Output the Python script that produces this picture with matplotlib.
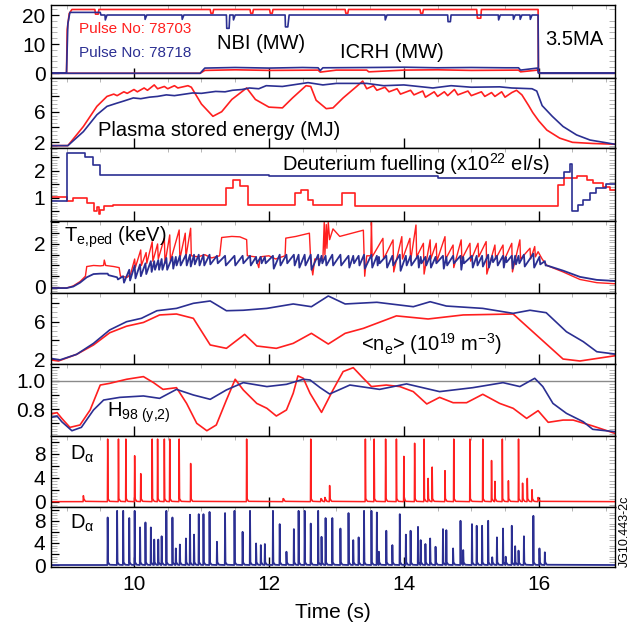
import matplotlib
matplotlib.use("Agg")
import matplotlib.pyplot as plt
import numpy as np
from matplotlib.ticker import MultipleLocator

plt.rcParams["font.family"] = ["Liberation Sans", "DejaVu Sans"]
plt.rcParams["mathtext.fontset"] = "custom"
plt.rcParams["mathtext.rm"] = "Liberation Sans"
plt.rcParams["mathtext.it"] = "Liberation Sans:italic"
plt.rcParams["mathtext.default"] = "regular"

RED = "#ff1f1f"
BLUE = "#2b2f92"

# ---- NBI / ICRH (MW) ----
nbi_red_t = [8.77, 9.0, 9.01, 9.04, 9.08, 9.42, 9.43, 9.47, 9.48, 11.13, 11.14, 11.17, 11.18,
             11.72, 11.73, 11.76, 11.77, 12.01, 12.02, 12.05, 12.06, 13.13, 13.14, 13.17, 13.18,
             14.24, 14.25, 14.28, 14.29, 15.08, 15.09, 15.14, 15.15, 15.99, 15.995, 17.13]
nbi_red_v = [0, 0, 15, 20.5, 21.9, 21.9, 20.3, 20.3, 21.9, 21.9, 20.6, 20.6, 21.9,
             21.9, 20.6, 20.6, 21.9, 21.9, 20.6, 20.6, 21.9, 21.9, 20.6, 20.6, 21.9,
             21.9, 20.6, 20.6, 21.9, 21.9, 18.9, 18.9, 21.9, 21.9, 0, 0]
nbi_blue_t = [8.77, 9.0, 9.02, 9.05, 9.5, 9.51, 9.57, 9.575, 9.6, 10.16, 10.165, 10.19, 10.71, 10.715, 10.74,
              11.37, 11.375, 11.41, 11.42, 11.47, 11.475, 11.5, 12.24, 12.245, 12.28, 12.3,
              13.72, 13.725, 13.75, 14.65, 14.655, 14.69, 14.7, 15.4, 15.405, 15.43, 15.62, 15.625, 15.65,
              15.72, 15.725, 15.75, 15.87, 15.875, 15.9, 15.99, 15.995, 17.13]
nbi_blue_v = [0, 0, 17, 20.9, 20.9, 20.0, 20.0, 18.3, 20.0, 20.0, 18.5, 20.0, 20.0, 18.5, 20.0,
              20.0, 15.4, 15.4, 20.0, 20.0, 18.3, 20.0, 20.0, 15.9, 15.9, 20.0,
              20.0, 18.3, 20.0, 20.0, 17.7, 17.7, 20.0, 20.0, 18.3, 20.0, 20.0, 18.5, 20.0,
              20.0, 18.5, 20.0, 20.0, 18.5, 20.0, 20.0, 0, 0]
icrh_red_t = [8.77, 10.98, 11.05, 11.5, 12.0, 12.73, 12.76, 13.0, 13.45, 13.48, 14.0, 14.5, 15.0, 15.7, 15.73, 15.98, 16.02, 17.13]
icrh_red_v = [-0.1, -0.1, 0.9, 1.1, 0.9, 1.0, 0.3, 1.0, 1.0, 0.4, 1.0, 1.1, 0.9, 1.0, 0.4, 1.0, -0.1, -0.1]
icrh_blue_t = [8.77, 10.98, 11.05, 11.5, 12.0, 12.5, 12.73, 12.76, 12.8, 13.5, 14.0, 14.5, 15.0, 15.5, 15.7, 15.73, 15.98, 16.0, 17.13]
icrh_blue_v = [-0.1, -0.1, 1.7, 1.9, 1.7, 1.9, 1.8, 0.8, 1.8, 1.9, 2.0, 1.8, 1.9, 1.8, 1.8, 1.0, 1.7, -0.1, -0.1]

# ---- Plasma stored energy (MJ) ----
w_red_t = [8.77, 9.02, 9.25, 9.45, 9.6, 9.7, 9.75, 9.85, 9.9, 10.0, 10.05, 10.15, 10.2, 10.3, 10.35,
           10.45, 10.5, 10.6, 10.65, 10.8, 10.85, 11.0, 11.17, 11.3, 11.45, 11.67, 11.8, 12.0, 12.2,
           12.35, 12.55, 12.62, 12.7, 12.85, 12.95, 13.1, 13.3, 13.39, 13.45, 13.55, 13.6, 13.72, 13.78,
           13.9, 13.95, 14.1, 14.15, 14.28, 14.32, 14.45, 14.5, 14.6, 14.65, 14.75, 14.8, 14.95, 15.0,
           15.15, 15.2, 15.3, 15.35, 15.45, 15.5, 15.6, 15.67, 15.75, 15.85, 15.91, 16.0, 16.12, 16.31,
           16.5, 16.8, 17.13]
w_red_v = [1.57, 1.57, 4.07, 6.7, 8.0, 8.3, 8.1, 8.6, 8.4, 8.9, 8.6, 9.1, 8.8, 9.5, 9.0,
           9.3, 9.0, 9.4, 9.1, 9.4, 9.2, 7.0, 5.4, 6.0, 7.6, 9.1, 7.6, 6.6, 6.5,
           7.8, 9.4, 9.3, 7.5, 6.4, 6.5, 7.8, 9.3, 10.0, 9.0, 9.4, 8.8, 9.2, 8.6,
           9.0, 8.3, 8.8, 8.2, 8.7, 7.9, 8.6, 8.0, 8.6, 8.1, 8.9, 8.2, 8.7, 8.1,
           8.6, 8.0, 8.5, 8.0, 8.6, 7.9, 8.5, 8.8, 8.2, 6.8, 5.9, 4.8, 3.6, 2.55,
           2.0, 1.85, 1.75]
w_blue_t = [8.77, 9.02, 9.25, 9.45, 9.6, 9.74, 9.85, 9.99, 10.1, 10.23, 10.35, 10.48, 10.6, 10.87,
            11.0, 11.21, 11.35, 11.46, 11.6, 11.71, 11.85, 11.96, 12.2, 12.58, 12.8, 13.0, 13.45,
            13.7, 14.0, 14.43, 14.7, 15.0, 15.42, 15.6, 15.9, 15.97, 16.05, 16.2, 16.36, 16.56,
            16.76, 17.13]
w_blue_v = [1.57, 1.57, 3.4, 5.6, 6.7, 7.1, 7.4, 7.8, 7.7, 7.9, 8.0, 8.2, 8.1, 8.45,
            8.4, 8.65, 8.6, 8.8, 8.9, 9.1, 9.0, 9.4, 9.3, 9.8, 9.5, 9.7, 9.7,
            9.4, 9.5, 9.1, 9.4, 9.2, 9.25, 9.1, 9.0, 8.7, 6.8, 5.4, 4.07, 2.97,
            2.3, 1.75]

# ---- Deuterium fuelling (1e22 el/s), step signals ----
gas_red_t = [8.77, 9.0, 9.1, 9.3, 9.4, 9.45, 9.48, 9.5, 9.55, 9.69, 11.37, 11.47, 11.57, 11.69,
             12.38, 12.48, 12.58, 12.66, 13.08, 13.27, 16.29, 16.38, 16.56, 16.71, 16.81, 16.95,
             17.05, 17.13]
gas_red_v = [1.02, 0.86, 0.99, 0.8, 0.5, 0.65, 0.4, 0.55, 0.68, 0.74, 1.36, 1.67, 1.42, 0.74,
             1.17, 1.3, 0.93, 0.74, 1.17, 0.7, 1.48, 1.74, 1.8, 1.67, 1.55, 1.4,
             1.3, 1.3]
gas_blue_t = [8.77, 9.0, 9.27, 9.39, 9.5, 12.0, 14.5, 16.38, 16.47, 16.5, 16.58, 16.66, 16.76,
              16.85, 17.0, 17.13]
gas_blue_v = [0.86, 2.66, 2.53, 2.2, 1.85, 1.8, 1.75, 1.95, 2.25, 0.5, 0.74, 0.93, 1.17,
              1.36, 1.5, 1.5]

# ---- Te,ped (keV) ----
te_red_t = [8.77, 9.0, 9.1, 9.2, 9.28, 9.3, 9.4, 9.5, 9.55, 9.56, 9.58, 9.7, 9.78, 9.8, 9.9, 9.95,
            10.01, 10.02, 10.10, 10.11, 10.18, 10.19, 10.27, 10.28, 10.35, 10.36, 10.45, 10.46,
            10.53, 10.54, 10.67, 10.68, 10.76, 10.77, 10.84, 10.85, 10.95, 11.05, 11.15, 11.27,
            11.3, 11.45, 11.57, 11.67, 11.68, 11.8, 11.85, 11.87, 12.0, 12.1, 12.24, 12.25, 12.4,
            12.6, 12.62, 12.65, 12.68, 12.8, 12.82, 12.83, 12.85, 12.86, 12.88, 12.9, 12.95, 13.05,
            13.4, 13.42, 13.45, 13.51, 13.52, 13.53,
            13.69, 13.70, 13.84, 13.85, 13.97, 13.98, 14.09, 14.10, 14.18, 14.19, 14.29, 14.30,
            14.39, 14.40, 14.48, 14.49, 14.61, 14.62, 14.73, 14.74, 14.85, 14.86, 14.98, 14.99,
            15.10, 15.11, 15.22, 15.23, 15.35, 15.36, 15.47, 15.48, 15.60, 15.61, 15.72, 15.73,
            15.87, 15.88, 15.94, 15.95, 15.99, 16.05, 16.12, 16.36, 16.61, 16.86, 17.13]
te_red_v = [-0.05, -0.05, 0.05, 0.25, 0.5, 0.95, 1.0, 0.98, 1.0, 1.25, 1.0, 0.95, 0.9, 0.5, 0.45, 0.6,
            1.3, 0.9, 1.72, 1.0, 1.6, 1.1, 2.1, 1.2, 2.0, 1.3, 2.27, 1.1,
            2.42, 1.2, 2.65, 1.3, 2.5, 1.4, 2.73, 1.45, 1.4, 1.5, 1.35, 1.45,
            2.3, 2.35, 2.33, 2.2, 1.45, 1.4, 0.9, 1.4, 1.45, 1.3, 1.45, 2.27, 2.35,
            2.5, 1.2, 0.56, 1.3, 1.3, 3.0, 1.5, 2.9, 1.8, 3.0, 2.2, 2.7, 2.35,
            2.64, 0.5, 1.45, 1.45, 3.0, 1.4,
            2.26, 1.3, 2.19, 0.7, 2.34, 1.3, 2.26, 1.2, 2.88, 1.4, 2.03, 0.6,
            2.19, 1.3, 2.03, 1.2, 2.34, 1.3, 1.95, 0.9, 2.19, 1.3, 2.03, 1.2,
            2.03, 1.4, 2.11, 0.6, 1.95, 1.3, 1.95, 1.2, 2.03, 0.7, 2.19, 1.3,
            1.8, 1.3, 1.88, 1.4, 1.64, 1.3, 1.0, 0.7, 0.35, 0.2, 0.15]

te_blue_early_t = [8.77, 9.0, 9.1, 9.2, 9.3, 9.4, 9.5]
te_blue_early_v = [-0.05, -0.05, 0.02, 0.2, 0.45, 0.6, 0.62]
te_blue_late_t = [16.12, 16.36, 16.61, 16.86, 17.13]
te_blue_late_v = [1.0, 0.76, 0.47, 0.33, 0.28]

# ---- Dalpha (a.u.) : ELM times and peak heights ----
da_red_t = [9.25, 9.61, 9.77, 9.88, 10.01, 10.10, 10.27, 10.35, 10.45, 10.53, 10.67, 10.84,
            11.67, 12.21, 12.62, 12.77, 12.83, 12.90, 13.43, 13.56, 13.73, 13.89, 14.00, 14.16,
            14.30, 14.36, 14.42, 14.61, 14.74, 14.98, 15.17, 15.30, 15.35, 15.46, 15.55, 15.70,
            15.76, 15.83, 15.90, 15.99]
da_red_h = [1.0, 10.5, 10.5, 10.5, 7.7, 4.7, 10.5, 10.5, 10.5, 10.5, 10.5, 6.4,
            10.5, 0.5, 10.5, 0.5, 0.7, 2.7, 10.5, 10.5, 10.5, 10.5, 7.6, 9.8,
            10.5, 3.9, 5.8, 5.2, 10.5, 10.5, 10.5, 6.9, 3.4, 10.5, 3.5, 10.5,
            3.1, 3.9, 2.0, 0.7]
da_blue_t = [9.61, 9.75, 9.84, 9.93, 10.01, 10.09, 10.17, 10.25, 10.30, 10.36, 10.41, 10.48,
             10.57, 10.62, 10.68, 10.77, 10.83, 10.89, 10.96, 11.03, 11.12, 11.23, 11.35, 11.49,
             11.61, 11.72, 11.81, 11.88, 11.94, 12.06, 12.16, 12.26, 12.37, 12.44, 12.53, 12.62,
             12.73, 12.78, 12.84, 12.94, 13.06, 13.18, 13.25, 13.33, 13.41, 13.52, 13.60, 13.63,
             13.74, 13.83, 13.94, 14.03, 14.10, 14.21, 14.25, 14.32, 14.39, 14.47, 14.58, 14.63,
             14.73, 14.84, 14.88, 15.01, 15.08, 15.16, 15.25, 15.31, 15.38, 15.47, 15.51, 15.60,
             15.65, 15.70, 15.78, 15.92, 16.01, 16.09]
da_blue_h = [8.6, 9.8, 9.8, 8.5, 9.8, 6.8, 7.7, 6.8, 4.6, 4.6, 5.2, 9.8,
             8.6, 3.0, 3.7, 4.8, 9.1, 5.5, 9.2, 9.2, 9.6, 4.2, 9.4, 9.8,
             6.0, 9.8, 3.9, 3.6, 3.8, 9.8, 7.4, 2.4, 6.5, 9.8, 9.8, 7.5,
             9.8, 5.1, 8.5, 8.5, 6.6, 9.4, 4.5, 5.0, 9.8, 9.8, 9.5, 2.4,
             6.2, 3.6, 9.2, 5.5, 6.2, 6.9, 4.5, 3.8, 4.8, 3.3, 6.5, 6.3,
             3.0, 8.0, 2.7, 7.4, 7.1, 7.1, 8.0, 1.4, 5.0, 6.6, 1.5, 7.1,
             3.4, 2.6, 5.2, 8.9, 3.0, 2.3]
# blue Te,ped just before / just after each blue ELM
te_blue_pre = [0.62, 0.45, 0.5, 0.8, 1.0, 1.05, 1.1, 1.2, 1.2, 1.25, 1.3, 1.35,
               1.4, 1.4, 1.45, 1.5, 1.5, 1.5, 1.5, 1.5, 1.5, 1.45, 1.45, 1.45,
               1.45, 1.45, 1.4, 1.4, 1.4, 1.45, 1.5, 1.5, 1.5, 1.5, 1.5, 1.5,
               1.5, 1.45, 1.45, 1.5, 1.5, 1.45, 1.45, 1.45, 1.5, 1.5, 1.45, 1.4,
               1.45, 1.45, 1.5, 1.45, 1.45, 1.45, 1.4, 1.4, 1.45, 1.4, 1.45, 1.4,
               1.45, 1.45, 1.4, 1.45, 1.45, 1.45, 1.5, 1.45, 1.45, 1.45, 1.4, 1.45,
               1.45, 1.45, 1.5, 1.55, 1.4, 1.2]
te_blue_post = [0.55, 0.35, 0.2, 0.3, 0.4, 0.5, 0.6, 0.7, 0.8, 0.8, 0.8, 0.8,
                0.85, 1.0, 1.0, 1.0, 0.95, 1.05, 1.0, 1.0, 1.05, 1.1, 1.0, 1.0,
                1.1, 1.0, 1.1, 1.1, 1.1, 0.85, 1.0, 1.1, 1.0, 0.9, 1.0, 0.8,
                1.0, 1.1, 1.0, 1.0, 1.0, 0.9, 1.1, 1.0, 0.85, 0.9, 1.0, 1.1,
                0.9, 1.0, 0.75, 1.0, 1.0, 0.9, 1.1, 1.0, 0.9, 1.1, 0.85, 1.0,
                1.1, 0.8, 1.1, 0.9, 1.0, 0.95, 0.9, 1.15, 1.0, 0.9, 1.15, 0.85,
                1.05, 1.1, 0.95, 0.9, 1.05, 1.0]

# ---- line averaged density (1e19 m^-3) ----
ne_red_t = [8.77, 8.88, 9.15, 9.4, 9.64, 9.89, 10.14, 10.38, 10.63, 10.88, 11.13, 11.37, 11.64,
            11.82, 12.11, 12.36, 12.63, 12.88, 13.13, 13.4, 13.89, 14.36, 14.88, 15.62, 16.36,
            16.61, 17.13]
ne_red_v = [1.9, 1.79, 2.5, 3.5, 4.8, 5.5, 5.9, 6.7, 6.8, 6.34, 3.5, 3.14, 4.63,
            3.39, 3.14, 3.67, 4.74, 3.6, 4.74, 5.27, 6.6, 6.27, 6.7, 6.8, 2.0,
            1.79, 2.35]
ne_blue_t = [8.77, 8.9, 9.15, 9.4, 9.64, 9.89, 10.11, 10.34, 10.63, 10.88, 11.13, 11.37, 11.62,
             11.97, 12.36, 12.63, 12.88, 13.13, 13.6, 14.14, 14.39, 14.63, 15.17, 15.62, 15.87,
             16.11, 16.41, 16.66, 16.86, 17.13]
ne_blue_v = [2.07, 1.9, 2.5, 3.67, 5.1, 5.98, 6.34, 7.15, 7.4, 7.94, 8.19, 7.15, 7.2,
             7.4, 7.87, 7.58, 8.72, 7.87, 8.05, 7.58, 8.11, 7.65, 7.4, 6.87, 7.2,
             6.94, 4.91, 3.85, 2.78, 2.53]

# ---- H98(y,2) ----
h98_red_t = [8.77, 8.86, 8.93, 9.05, 9.2, 9.35, 9.5, 9.64, 9.89, 10.14, 10.29, 10.43, 10.63,
             10.78, 10.93, 11.08, 11.22, 11.37, 11.5, 11.62, 11.82, 11.97, 12.11, 12.26, 12.36,
             12.43, 12.51, 12.61, 12.78, 12.95, 13.1, 13.25, 13.4, 13.52, 13.74, 13.94, 14.14,
             14.34, 14.53, 14.73, 14.93, 15.17, 15.42, 15.62, 15.82, 15.99, 16.14, 16.36, 16.51,
             16.8, 17.13]
h98_red_v = [0.764, 0.774, 0.733, 0.669, 0.686, 0.793, 0.971, 0.983, 1.012, 1.031, 0.988, 0.94, 0.952,
             0.84, 0.698, 0.645, 0.686, 0.864, 1.012, 0.936, 0.84, 0.805, 0.75, 0.793, 0.912,
             1.036, 1.019, 0.912, 0.776, 0.936, 1.067, 1.095, 1.019, 0.96, 0.971, 0.96, 0.924,
             0.836, 0.883, 0.845, 0.845, 0.905, 0.84, 0.805, 0.733, 0.788, 0.705, 0.721, 0.721,
             0.679, 0.626]
h98_blue_t = [8.77, 8.86, 8.93, 9.08, 9.22, 9.4, 9.55, 9.79, 10.14, 10.38, 10.63, 10.88, 11.13,
              11.37, 11.62, 11.97, 12.26, 12.51, 12.61, 12.76, 12.9, 13.2, 13.64, 14.04, 14.53,
              15.02, 15.47, 15.72, 15.94, 16.06, 16.21, 16.41, 16.66, 16.8, 17.13]
h98_blue_v = [0.74, 0.75, 0.709, 0.645, 0.669, 0.793, 0.864, 0.883, 0.893, 0.876, 0.94, 0.9, 0.869,
              0.936, 0.988, 0.96, 0.976, 1.012, 1.007, 0.952, 0.907, 0.971, 0.94, 0.979, 0.924,
              0.952, 0.988, 0.96, 1.019, 0.96, 0.84, 0.769, 0.709, 0.655, 0.638]
h98_ref = 1.0

time_ticks = [10, 12, 14, 16]
x_range = (8.77, 17.13)


def spike_trace(times, heights, t0, t1):
    # baseline with one narrow spike per ELM
    ts, vs = [t0], [0.0]
    for t, h in zip(times, heights):
        ts += [t - 0.004, t, t + 0.006, t + 0.03]
        vs += [0.0, h, 0.5, 0.05]
    ts.append(t1)
    vs.append(0.0)
    return ts, vs


def sawtooth_trace(early_t, early_v, times, pre, post, late_t, late_v):
    ts, vs = list(early_t), list(early_v)
    for t, a, b in zip(times, pre, post):
        ts += [t, t + 0.012]
        vs += [a, b]
    return ts + list(late_t), vs + list(late_v)


fig = plt.figure(figsize=(6.37, 6.29), dpi=100)
W, H = 637, 629
left, right = 51, 615
edges = [5, 77.5, 148, 220.5, 293, 364, 435.5, 507, 567]
axes = []
for i in range(8):
    top, bot = edges[i], edges[i + 1]
    ax = fig.add_axes([left / W, 1 - bot / H, (right - left) / W, (bot - top) / H])
    axes.append(ax)

specs = [
    ((-1.55, 23.45), [0, 10, 20], ["0", "10", "20"], 2),
    ((1.26, 10.47), [2, 4, 6, 8], ["2", "", "6", ""], 0.5),
    ((0.15, 2.85), [0.5, 1, 1.5, 2, 2.5], ["", "1", "", "2", ""], 0.1),
    ((-0.28, 3.09), [0, 0.5, 1, 1.5, 2, 2.5, 3], ["0", "", "", "", "2", "", ""], 0.1),
    ((1.47, 9.04), [2, 4, 6, 8], ["2", "", "6", ""], 0.5),
    ((0.611, 1.121), [0.7, 0.8, 0.9, 1.0, 1.1], ["", "0.8", "", "1.0", ""], 0.02),
    ((-0.9, 11.1), [0, 2, 4, 6, 8, 10], ["0", "", "4", "", "8", ""], 0.5),
    ((-0.36, 10.5), [0, 2, 4, 6, 8, 10], ["0", "", "4", "", "8", ""], 0.5),
]

for ax, (ylim, ticks, labels, minor) in zip(axes, specs):
    ax.set_xlim(*x_range)
    ax.set_ylim(*ylim)
    ax.set_yticks(ticks, labels)
    ax.yaxis.set_minor_locator(MultipleLocator(minor))
    ax.set_xticks(time_ticks)
    ax.xaxis.set_minor_locator(MultipleLocator(0.5))
    ax.tick_params(axis="y", which="major", direction="in", length=6, width=0.9,
                   labelsize=15, pad=4, left=True, right=False)
    ax.tick_params(axis="y", which="minor", direction="in", length=4, width=0.6,
                   color="#aaaaaa", left=True, right=True)
    ax.tick_params(axis="x", which="major", direction="in", length=7, width=1.0,
                   bottom=True, top=False, labelbottom=False, labelsize=15)
    ax.tick_params(axis="x", which="minor", direction="in", length=3, width=0.6,
                   color="#aaaaaa", bottom=False, top=True)
    for s in ax.spines.values():
        s.set_linewidth(1.0)

lw = 1.2
ax = axes[0]
ax.plot(nbi_red_t, nbi_red_v, color=RED, lw=lw)
ax.plot(icrh_red_t, icrh_red_v, color=RED, lw=lw)
ax.plot(nbi_blue_t, nbi_blue_v, color=BLUE, lw=lw)
ax.plot(icrh_blue_t, icrh_blue_v, color=BLUE, lw=lw)
ax.text(9.19, 15.1, "Pulse No: 78703", color=RED, fontsize=11, va="center")
ax.text(9.19, 7.0, "Pulse No: 78718", color=BLUE, fontsize=11, va="center")
ax.text(11.23, 10.3, "NBI (MW)", fontsize=14.5, va="center")
ax.text(13.05, 6.9, "ICRH (MW)", fontsize=14.5, va="center")
ax.text(16.1, 11.4, "3.5MA", fontsize=14.5, va="center")

ax = axes[1]
ax.plot(w_red_t, w_red_v, color=RED, lw=lw)
ax.plot(w_blue_t, w_blue_v, color=BLUE, lw=lw)
ax.text(9.46, 3.5, "Plasma stored energy (MJ)", fontsize=14.5, va="center")

ax = axes[2]
ax.step(gas_red_t, gas_red_v, where="post", color=RED, lw=lw)
ax.step(gas_blue_t, gas_blue_v, where="post", color=BLUE, lw=lw)
ax.text(16.16, 2.25, r"Deuterium fuelling (x10$^{22}$ el/s)", fontsize=14.5,
        va="center", ha="right")

ax = axes[3]
ax.plot(te_red_t, te_red_v, color=RED, lw=1.0)
bt, bv = sawtooth_trace(te_blue_early_t, te_blue_early_v, da_blue_t, te_blue_pre,
                        te_blue_post, te_blue_late_t, te_blue_late_v)
ax.plot(bt, bv, color=BLUE, lw=1.3)
ax.text(8.97, 2.3, r"T$_{e{,}ped}$ (keV)", fontsize=14.5, va="center")

ax = axes[4]
ax.plot(ne_red_t, ne_red_v, color=RED, lw=lw)
ax.plot(ne_blue_t, ne_blue_v, color=BLUE, lw=lw)
ax.text(13.36, 3.6, r"<n$_e$> (10$^{19}$ m$^{-3}$)", fontsize=14.5, va="center")

ax = axes[5]
ax.axhline(h98_ref, color="#8a8a8a", lw=1.0)
ax.plot(h98_red_t, h98_red_v, color=RED, lw=lw)
ax.plot(h98_blue_t, h98_blue_v, color=BLUE, lw=lw)
ax.text(9.6, 0.77, r"H$_{98\ (y{,}2)}$", fontsize=14.5, va="center")

ax = axes[6]
rt, rv = spike_trace(da_red_t, da_red_h, x_range[0], x_range[1])
ax.plot(rt, rv, color=RED, lw=1.1)
ax.text(9.05, 8.0, r"D$_{\alpha}$", fontsize=14.5, va="center")

ax = axes[7]
bt, bv = spike_trace(da_blue_t, da_blue_h, x_range[0], x_range[1])
ax.plot(bt, bv, color=BLUE, lw=1.3)
ax.text(9.05, 7.5, r"D$_{\alpha}$", fontsize=14.5, va="center")
ax.tick_params(axis="x", which="major", labelbottom=True, pad=6)
ax.set_xlabel("Time (s)", fontsize=15, labelpad=6)

fig.text(625 / W, 1 - 531 / H, "JG10.443-2c", rotation=90, fontsize=9,
         ha="center", va="center")

fig.savefig("out.png", dpi=100)
